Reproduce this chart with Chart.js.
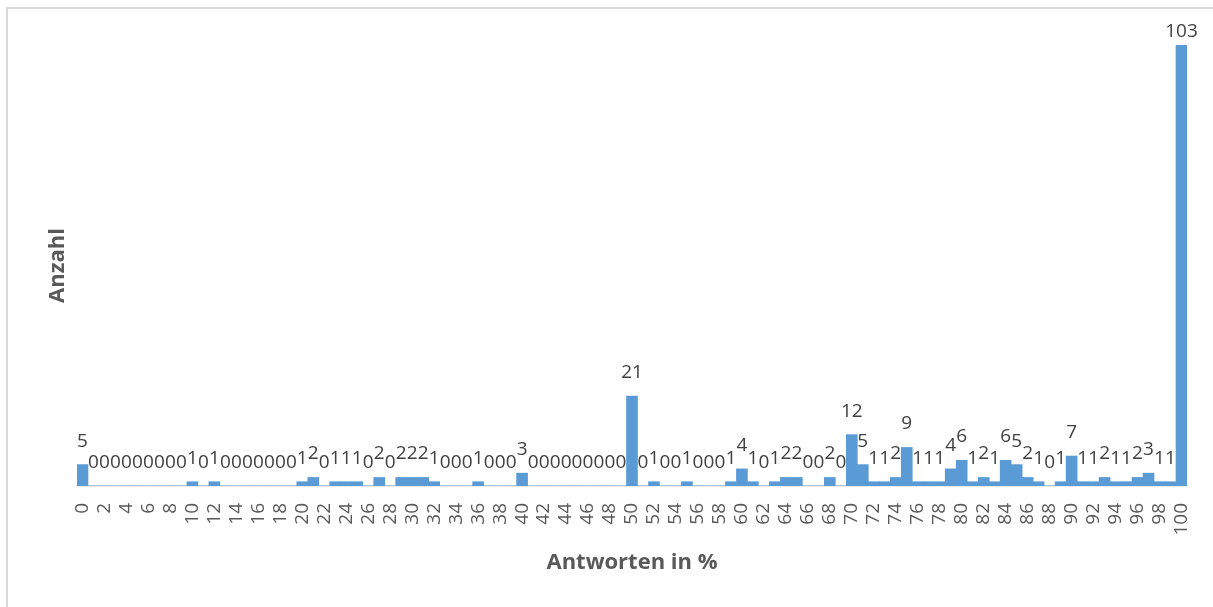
<!DOCTYPE html>
<html>
<head>
<meta charset="utf-8">
<script src="https://cdn.jsdelivr.net/npm/chart.js@4/dist/chart.umd.min.js"></script>
<style>
  html, body { margin: 0; padding: 0; background: #ffffff; overflow: hidden; }
  #wrap { position: relative; width: 1213px; height: 607px; }
  #frame { position: absolute; left: 6px; top: 7px; right: -10px; bottom: -10px; border: 2px solid #d9d9d9; pointer-events: none; }
  canvas { position: absolute; left: 0; top: 0; }
</style>
</head>
<body>
<div id="wrap">
  <canvas id="chart" width="1213" height="607"></canvas>
  <div id="frame"></div>
</div>
<script>
// Antworten in % (0 bis 100)
const categories = [
  '0','1','2','3','4','5','6','7','8','9',
  '10','11','12','13','14','15','16','17','18','19',
  '20','21','22','23','24','25','26','27','28','29',
  '30','31','32','33','34','35','36','37','38','39',
  '40','41','42','43','44','45','46','47','48','49',
  '50','51','52','53','54','55','56','57','58','59',
  '60','61','62','63','64','65','66','67','68','69',
  '70','71','72','73','74','75','76','77','78','79',
  '80','81','82','83','84','85','86','87','88','89',
  '90','91','92','93','94','95','96','97','98','99',
  '100'
];

// Anzahl je Antwort
const counts = [
  5, 0, 0, 0, 0, 0, 0, 0, 0, 0,
  1, 0, 1, 0, 0, 0, 0, 0, 0, 0,
  1, 2, 0, 1, 1, 1, 0, 2, 0, 2,
  2, 2, 1, 0, 0, 0, 1, 0, 0, 0,
  3, 0, 0, 0, 0, 0, 0, 0, 0, 0,
  21, 0, 1, 0, 0, 1, 0, 0, 0, 1,
  4, 1, 0, 1, 2, 2, 0, 0, 2, 0,
  12, 5, 1, 1, 2, 9, 1, 1, 1, 4,
  6, 1, 2, 1, 6, 5, 2, 1, 0, 1,
  7, 1, 1, 2, 1, 1, 2, 3, 1, 1,
  103
];

// Beschriftete Kategorien auf der x-Achse (jede zweite)
const tickLabels = [
  '0','2','4','6','8','10','12','14','16','18',
  '20','22','24','26','28','30','32','34','36','38',
  '40','42','44','46','48','50','52','54','56','58',
  '60','62','64','66','68','70','72','74','76','78',
  '80','82','84','86','88','90','92','94','96','98',
  '100'
];

const yMax = 103;
const FONT = "'Open Sans', 'Liberation Sans', sans-serif";

// Werte über den Säulen; Beschriftungen bleiben unterhalb des oberen Rands
const valueLabels = {
  id: 'valueLabels',
  afterDatasetsDraw(chart) {
    const ctx = chart.ctx;
    const meta = chart.getDatasetMeta(0);
    ctx.save();
    ctx.font = '19px ' + FONT;
    ctx.fillStyle = '#404040';
    ctx.textAlign = 'center';
    ctx.textBaseline = 'alphabetic';
    meta.data.forEach((bar, i) => {
      const y = Math.max(bar.y - 18, 37);
      ctx.fillText(String(counts[i]), bar.x, y);
    });
    ctx.restore();
  }
};

new Chart(document.getElementById('chart'), {
  type: 'bar',
  data: {
    labels: categories,
    datasets: [{
      data: counts,
      backgroundColor: '#5B9BD5',
      borderWidth: 0,
      barPercentage: 1.0,
      categoryPercentage: 1.0
    }]
  },
  options: {
    responsive: false,
    animation: false,
    devicePixelRatio: 1,
    layout: { padding: { top: 45, right: 26, bottom: 0, left: 0 } },
    plugins: {
      legend: { display: false },
      tooltip: { enabled: false }
    },
    scales: {
      x: {
        grid: { display: false, drawTicks: false },
        border: { display: true, color: '#d9d9d9', width: 1.5 },
        ticks: {
          autoSkip: false,
          minRotation: 90,
          maxRotation: 90,
          padding: 17,
          color: '#595959',
          font: { family: FONT, size: 19 },
          callback(value, index) {
            return index % 2 === 0 ? tickLabels[index / 2] : '';
          }
        },
        title: {
          display: true,
          text: 'Antworten in %',
          color: '#595959',
          font: { family: FONT, size: 22, weight: 'bold' },
          padding: { top: 0, bottom: 31 }
        },
        // feste Achsenhöhe, kein zusätzlicher Seitenrand für gedrehte Beschriftungen
        afterFit(scale) {
          scale.height = 121;
          scale.paddingLeft = 0;
          scale.paddingRight = 0;
        }
      },
      y: {
        min: 0,
        max: yMax,
        grid: { display: false, drawTicks: false },
        border: { display: false },
        ticks: { display: false },
        title: {
          display: true,
          text: 'Anzahl',
          color: '#595959',
          font: { family: FONT, size: 22, weight: 'bold' },
          padding: { top: 45, bottom: 0 }
        },
        afterFit(scale) { scale.width = 77; }
      }
    }
  },
  plugins: [valueLabels]
});
</script>
</body>
</html>
